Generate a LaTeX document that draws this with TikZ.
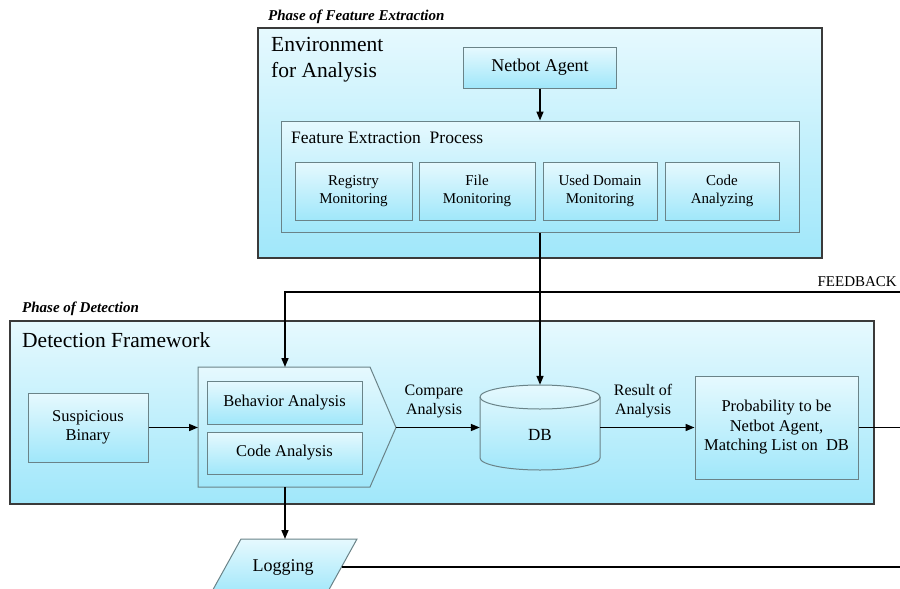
\documentclass[tikz,border=0pt]{standalone}
\usepackage{fontspec}
\setmainfont{Liberation Serif}
\usetikzlibrary{arrows.meta}
\definecolor{cTop}{HTML}{E6F9FE}
\definecolor{cBot}{HTML}{A0E7FA}
\definecolor{outerline}{HTML}{3A3A3A}
\definecolor{innerline}{HTML}{6A8388}
\tikzset{
  outerbox/.style={draw=outerline, line width=1.2pt, top color=cTop, bottom color=cBot, rectangle, inner sep=0pt},
  innerbox/.style={draw=innerline, line width=1pt, top color=cTop, bottom color=cBot, rectangle, inner sep=0pt, align=center},
  conn/.style={line width=1.6pt, black},
  arr/.style={conn, -{Triangle[length=9pt,width=7pt]}},
  phase/.style={font=\fontsize{15}{17}\selectfont\bfseries\itshape, anchor=west, inner sep=0pt},
  bigtitle/.style={font=\fontsize{21.5}{26}\selectfont, anchor=west, align=left, inner sep=0pt},
  lbl/.style={font=\fontsize{16.5}{19}\selectfont, align=center, inner sep=0pt},
  small/.style={font=\fontsize{15}{17.5}\selectfont}
}
\begin{document}
\begin{tikzpicture}[x=1pt,y=-1pt]
\useasboundingbox (0,0) rectangle (900,589);
\clip (0,0) rectangle (900,589);
% ---------- Feature extraction phase ----------
\node[phase] (ph1) at (268,17) {Phase of Feature Extraction};
\node[outerbox, minimum width=564pt, minimum height=230pt] (env) at (540,143) {};
\node[bigtitle] (envt) at (271,60) {Environment\\for Analysis};
\node[innerbox, lbl, font=\fontsize{18}{21}\selectfont, minimum width=153pt, minimum height=41pt] (netbot) at (540,67.5) {Netbot Agent};
\node[innerbox, minimum width=518pt, minimum height=111pt] (fep) at (540,176.5) {};
\node[anchor=west, inner sep=0pt, font=\fontsize{17.5}{20}\selectfont] (fept) at (291,138) {Feature Extraction\ \ Process};
\node[innerbox, small, minimum width=117pt, minimum height=58pt] (reg) at (353.5,191) {Registry\\Monitoring};
\node[innerbox, small, minimum width=116pt, minimum height=58pt] (file) at (477,191) {File\\Monitoring};
\node[innerbox, small, minimum width=114pt, minimum height=58pt] (dom) at (600,191) {Used Domain\\Monitoring};
\node[innerbox, small, minimum width=114pt, minimum height=58pt] (code) at (722,191) {Code\\Analyzing};
% ---------- Detection phase ----------
\node[phase] (ph2) at (22,309) {Phase of Detection};
\node[outerbox, minimum width=864pt, minimum height=183pt] (det) at (442,412.5) {};
\node[bigtitle] (dett) at (22,340) {Detection Framework};
\node[innerbox, lbl, minimum width=120pt, minimum height=69pt] (susp) at (88,427.5) {Suspicious\\Binary};
% chevron
\draw[innerline, line width=1pt, top color=cTop, bottom color=cBot]
  (198,367) -- (370,367) -- (396,427.5) -- (370,487) -- (198,487) -- cycle;
\coordinate (chevtop) at (285,367);
\coordinate (chevbot) at (285,487);
\coordinate (chevleft) at (198,427.5);
\coordinate (chevtip) at (396,427.5);
\node[innerbox, lbl, minimum width=155pt, minimum height=43pt] (beh) at (284.5,402.5) {Behavior Analysis};
\node[innerbox, lbl, minimum width=155pt, minimum height=42pt] (codea) at (284.5,453) {Code Analysis};
% DB cylinder
\draw[innerline, line width=1pt, top color=cTop, bottom color=cBot]
  (480,397) -- (480,458) arc[start angle=180, end angle=360, x radius=60pt, y radius=12pt]
  -- (600,397) arc[start angle=0, end angle=180, x radius=60pt, y radius=12pt] -- cycle;
\draw[innerline, line width=1pt] (480,397) arc[start angle=180, end angle=360, x radius=60pt, y radius=12pt];
\node[minimum width=120pt, minimum height=85pt, inner sep=0pt] (db) at (540,427.5) {};
\node[lbl, font=\fontsize{17}{19}\selectfont] (dbt) at (540,435) {DB};
\node[innerbox, lbl, font=\fontsize{16.5}{19.5}\selectfont, minimum width=163pt, minimum height=103pt] (prob) at (776.5,427.5) {Probability to be\\Netbot Agent,\\Matching List on\ \ DB};
% Logging parallelogram
\draw[innerline, line width=1pt, top color=cTop, bottom color=cBot]
  (241,539) -- (357,539) -- (326,595) -- (210,595) -- cycle;
\node[lbl, font=\fontsize{18}{21}\selectfont] (log) at (283,567) {Logging};
\coordinate (logtop) at (285,539);
\coordinate (logright) at (341.5,567);
% labels
\node[lbl, font=\fontsize{16}{19}\selectfont] (cmp) at (434,401.5) {Compare\\Analysis};
\node[lbl, font=\fontsize{16}{19}\selectfont] (res) at (643,401.5) {Result of\\Analysis};
\node[anchor=east, inner sep=0pt, font=\fontsize{15}{17}\selectfont] (fb) at (897,282) {FEEDBACK};
% ---------- connectors ----------
\coordinate (fbR) at (900,292);
\coordinate (probR) at (900,427.5);
\coordinate (logR) at (900,567);
\draw[arr] (netbot.south) -- (fep.north);
\draw[arr] (fep.south) -- (db.north);
\draw[arr] (fbR) -| (chevtop);
\draw[arr] (susp.east) -- (chevleft);
\draw[arr] (chevtip) -- (db.west);
\draw[arr] (db.east) -- (prob.west);
\draw[conn] (prob.east) -- (probR);
\draw[arr] (chevbot) -- (logtop);
\draw[conn] (logright) -- (logR);
\end{tikzpicture}
\end{document}
